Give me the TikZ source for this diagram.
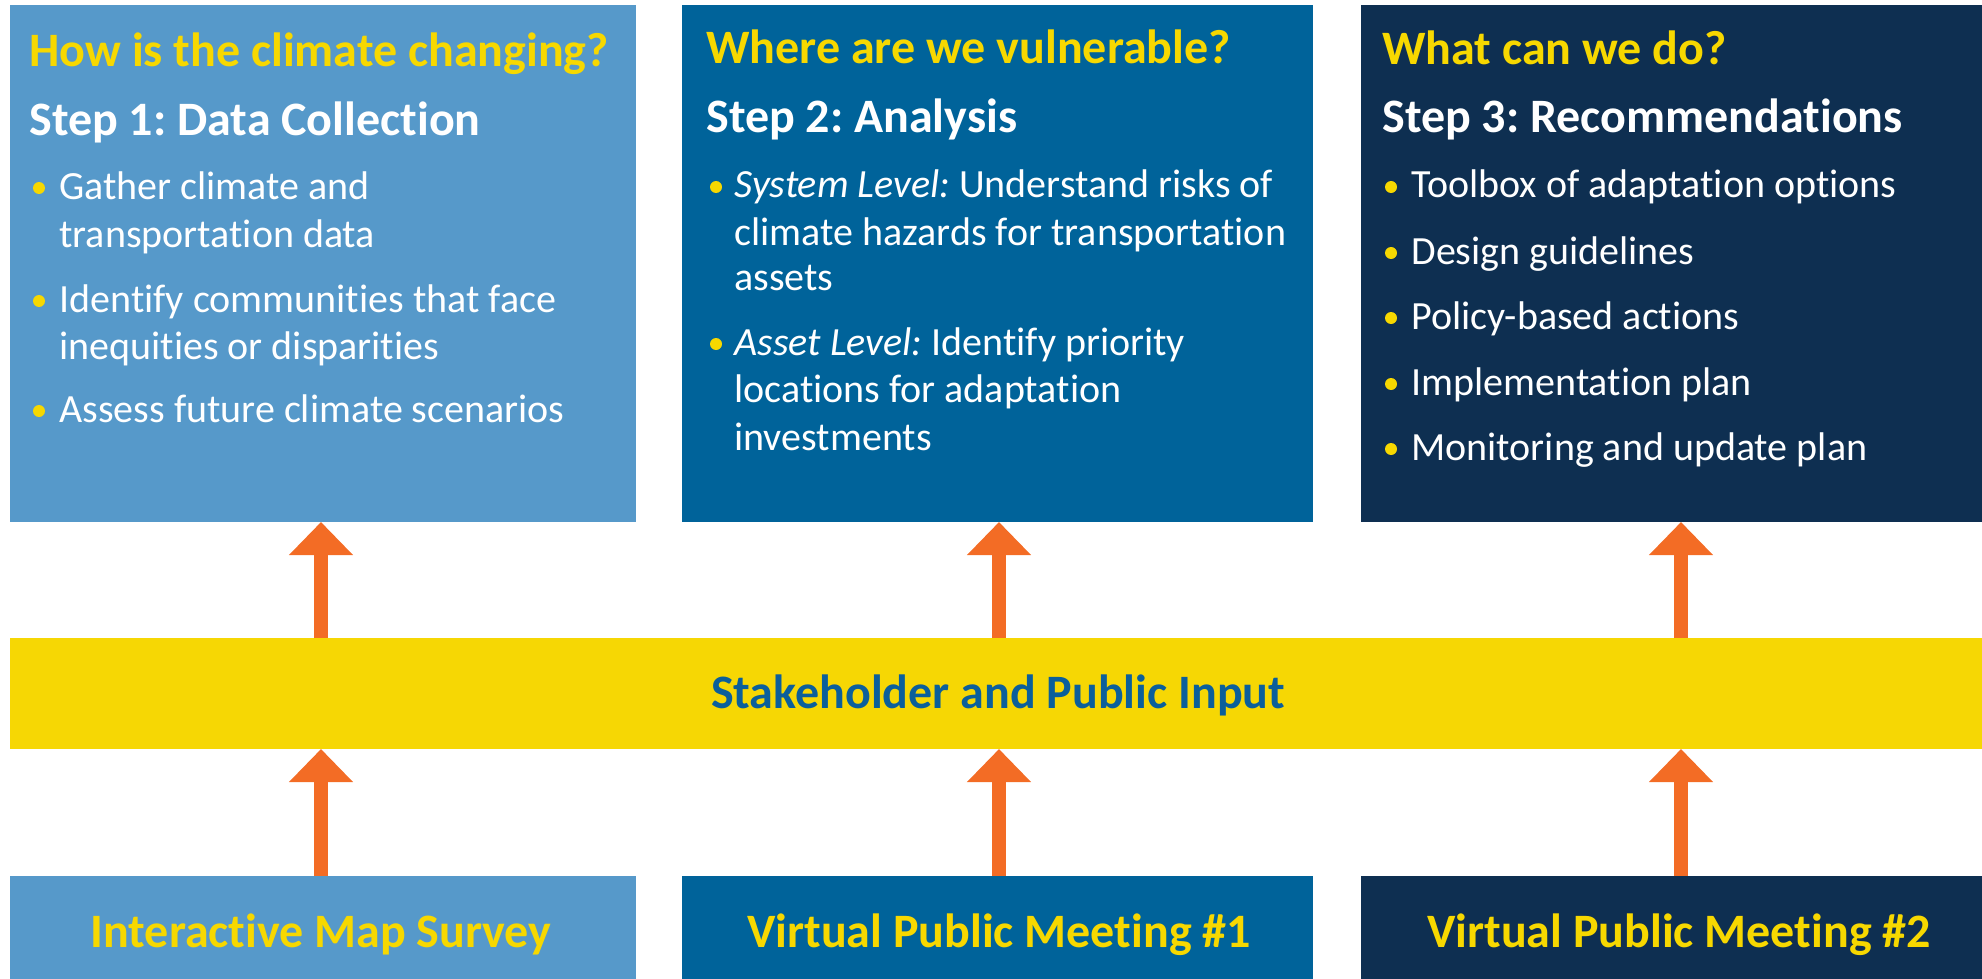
\documentclass[tikz,border=0pt]{standalone}
\usepackage{fontspec}
\setmainfont{Carlito}[Ligatures={NoCommon,NoContextual,NoRare},RawFeature={-liga;-clig;-calt;-dlig}]
\frenchspacing
\usetikzlibrary{arrows.meta}
\definecolor{boxA}{HTML}{5699CA}
\definecolor{boxB}{HTML}{00639A}
\definecolor{boxC}{HTML}{0E2F51}
\definecolor{bandY}{HTML}{F6D704}
\definecolor{arrO}{HTML}{F36C25}
\definecolor{ytext}{HTML}{F7D800}
\definecolor{btext}{HTML}{0B5F9B}
\tikzset{
  panel/.style={draw=none, inner sep=0pt, outer sep=0pt, anchor=north west},
  ttl/.style={anchor=base west, inner sep=0pt, font=\bfseries\fontsize{24}{28}\selectfont, text=ytext},
  stp/.style={anchor=base west, inner sep=0pt, font=\bfseries\fontsize{24}{28}\selectfont, text=white},
  itm/.style={anchor=base west, inner sep=0pt, font=\fontsize{20}{24}\selectfont, text=white},
  lbl/.style={anchor=base, inner sep=0pt, font=\bfseries\fontsize{24}{28}\selectfont, text=ytext},
  dot/.style={fill=ytext},
  uparr/.style={draw=arrO, line width=7.4pt, -{Triangle[width=31pt,length=16.5pt]}}
}
\begin{document}
\begin{tikzpicture}[x=0.5pt,y=-0.5pt]
\useasboundingbox (0,0) rectangle (1982,979);
% top panels
\node[panel, fill=boxA, minimum width=313pt, minimum height=258.5pt] (b1) at (10,5) {};
\node[panel, fill=boxB, minimum width=315.5pt, minimum height=258.5pt] (b2) at (682,5) {};
\node[panel, fill=boxC, minimum width=320pt, minimum height=258.5pt] (b3) at (1361,5) {};
% band
\node[panel, fill=bandY, minimum width=995pt, minimum height=55.5pt] (band) at (10,638) {};
\node[anchor=base, inner sep=0pt, font=\bfseries\fontsize{24}{28}\selectfont, text=btext] (bandlbl) at (998,708) {Stakeholder and Public Input};
% bottom panels
\node[panel, fill=boxA, minimum width=313pt, minimum height=56pt] (c1) at (10,876) {};
\node[panel, fill=boxB, minimum width=315.5pt, minimum height=56pt] (c2) at (682,876) {};
\node[panel, fill=boxC, minimum width=320pt, minimum height=56pt] (c3) at (1361,876) {};
\node[lbl] (c1l) at (321,947) {Interactive Map Survey};
\node[lbl] (c2l) at (999,947) {Virtual Public Meeting \#1};
\node[lbl] (c3l) at (1679,947) {Virtual Public Meeting \#2};
% arrow columns
\coordinate (a1) at (321,0);
\coordinate (a2) at (999,0);
\coordinate (a3) at (1681,0);
\draw[uparr] (band.north -| a1) -- (b1.south -| a1);
\draw[uparr] (band.north -| a2) -- (b2.south -| a2);
\draw[uparr] (band.north -| a3) -- (b3.south -| a3);
\draw[uparr] (c1.north -| a1) -- (band.south -| a1);
\draw[uparr] (c2.north -| a2) -- (band.south -| a2);
\draw[uparr] (c3.north -| a3) -- (band.south -| a3);
% panel 1 text
\node[ttl] (t1) at (29,67) {How is the climate changing?};
\node[stp] (s1) at (29,135) {Step 1: Data Collection};
\fill[dot] (39,188) circle (6);
\node[itm] at (59,199) {Gather climate and};
\node[itm] at (59,247) {transportation data};
\fill[dot] (39,301) circle (6);
\node[itm] at (59,312) {Identify communities that face};
\node[itm] at (59,359) {inequities or disparities};
\fill[dot] (39,411) circle (6);
\node[itm] at (59,422) {Assess future climate scenarios};
% panel 2 text
\node[ttl] (t2) at (706,64) {Where are we vulnerable?};
\node[stp] (s2) at (706,133) {Step 2: Analysis};
\fill[dot] (716,187) circle (6);
\node[itm] at (734,198) {\textit{System Level:} Understand risks of};
\node[itm] at (734,245) {climate hazards for transportation};
\node[itm] at (734,290) {assets};
\fill[dot] (716,344) circle (6);
\node[itm] at (734,355) {\textit{Asset Level:} Identify priority};
\node[itm] at (734,402) {locations for adaptation};
\node[itm] at (734,450) {investments};
% panel 3 text
\node[ttl] (t3) at (1382,65) {What can we do?};
\node[stp] (s3) at (1382,133) {Step 3: Recommendations};
\fill[dot] (1391,187) circle (6);
\node[itm] at (1411,198) {Toolbox of adaptation options};
\fill[dot] (1391,253) circle (6);
\node[itm] at (1411,264) {Design guidelines};
\fill[dot] (1391,318) circle (6);
\node[itm] at (1411,329) {Policy-based actions};
\fill[dot] (1391,384) circle (6);
\node[itm] at (1411,395) {Implementation plan};
\fill[dot] (1391,449) circle (6);
\node[itm] at (1411,460) {Monitoring and update plan};
\end{tikzpicture}
\end{document}
